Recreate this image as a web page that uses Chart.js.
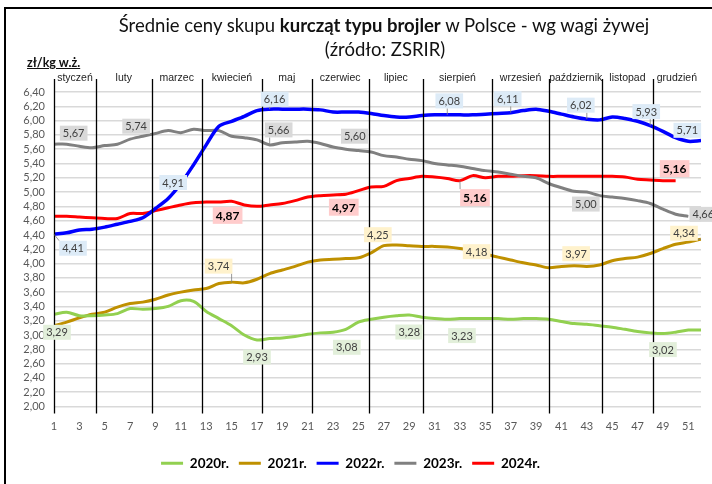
<!DOCTYPE html>
<html lang="pl">
<head>
<meta charset="UTF-8">
<title>Średnie ceny skupu kurcząt typu brojler</title>
<script src="https://cdn.jsdelivr.net/npm/chart.js"></script>
<style>
  body { margin: 0; background: #fff; }
  #wrap { position: relative; width: 712px; height: 484px; overflow: hidden; font-family: Lato, "Liberation Sans", sans-serif; }
  #frame { position: absolute; left: 4px; top: 7px; width: 740px; height: 520px; border-left: 2px solid #000; border-top: 2px solid #000; }
  #chartBox { position: absolute; left: 0; top: 0; width: 712px; height: 484px; }
  .t { position: absolute; white-space: nowrap; color: #111; }
  #title1 { left: 384px; top: 14px; transform: translateX(-50%); font-size: 18.5px; }
  #title2 { left: 385px; top: 38px; transform: translateX(-50%); font-size: 18.5px; }
  #unit { left: 27px; top: 55px; font-size: 12.5px; font-weight: bold; text-decoration: underline; }
</style>
</head>
<body>
<div id="wrap">
  <div id="frame"></div>
  <div id="chartBox"><canvas id="chart"></canvas></div>
  <div class="t" id="title1">Średnie ceny skupu <b>kurcząt typu brojler</b> w Polsce - wg wagi żywej</div>
  <div class="t" id="title2">(źródło: ZSRIR)</div>
  <div class="t" id="unit">zł/kg w.ż.</div>
</div>
<script>
// tygodnie roku
const weeks = [1,2,3,4,5,6,7,8,9,10,11,12,13,14,15,16,17,18,19,20,21,22,23,24,25,26,
               27,28,29,30,31,32,33,34,35,36,37,38,39,40,41,42,43,44,45,46,47,48,49,50,51,52];
const tickWeeks = [1,3,5,7,9,11,13,15,17,19,21,23,25,27,29,31,33,35,37,39,41,43,45,47,49,51];

const monthNames = ['styczeń','luty','marzec','kwiecień','maj','czerwiec','lipiec',
                    'sierpień','wrzesień','październik','listopad','grudzień'];
// granice miesięcy (w tygodniach)
const monthStarts = [1, 4.3, 8.7, 12.65, 17.4, 21.3, 25.8, 30.1, 35.5, 40.05, 44.2, 48.2];

const seriesNames = ['2020r.', '2021r.', '2022r.', '2023r.', '2024r.'];

const y2020 = [3.29,3.32,3.27,3.27,3.28,3.30,3.37,3.36,3.37,3.40,
               3.48,3.47,3.33,3.23,3.13,3.00,2.93,2.95,2.96,2.98,
               3.01,3.03,3.04,3.08,3.18,3.22,3.25,3.27,3.28,3.25,
               3.23,3.22,3.23,3.23,3.23,3.23,3.22,3.23,3.23,3.22,
               3.19,3.16,3.15,3.13,3.11,3.08,3.05,3.03,3.02,3.04,3.07,3.07];
const y2021 = [3.13,3.18,3.24,3.29,3.32,3.39,3.44,3.46,3.50,3.56,
               3.60,3.63,3.65,3.72,3.74,3.73,3.78,3.86,3.91,3.96,
               4.02,4.05,4.06,4.07,4.08,4.15,4.25,4.26,4.25,4.24,
               4.24,4.23,4.21,4.18,4.13,4.09,4.05,4.01,3.98,3.94,
               3.96,3.97,3.96,3.98,4.04,4.07,4.09,4.14,4.21,4.27,4.30,4.34];
const y2022 = [4.41,4.43,4.47,4.48,4.51,4.55,4.59,4.64,4.77,4.91,
               5.12,5.38,5.66,5.92,5.99,6.06,6.14,6.16,6.16,6.16,
               6.16,6.15,6.12,6.12,6.12,6.10,6.07,6.05,6.05,6.07,
               6.08,6.08,6.08,6.08,6.09,6.10,6.11,6.14,6.16,6.13,
               6.09,6.05,6.02,6.01,6.05,6.03,5.99,5.93,5.85,5.76,5.71,5.72];
const y2023 = [5.67,5.67,5.64,5.62,5.65,5.67,5.74,5.78,5.82,5.86,
               5.83,5.88,5.86,5.86,5.78,5.76,5.73,5.66,5.69,5.70,
               5.71,5.68,5.63,5.60,5.58,5.56,5.51,5.49,5.46,5.44,
               5.40,5.38,5.36,5.33,5.30,5.28,5.25,5.22,5.20,5.12,
               5.06,5.01,5.00,4.95,4.93,4.91,4.88,4.84,4.76,4.69,4.66];
const y2024 = [4.66,4.66,4.65,4.64,4.63,4.63,4.70,4.70,4.74,4.78,
               4.82,4.85,4.86,4.86,4.87,4.82,4.80,4.82,4.84,4.88,
               4.93,4.95,4.96,4.97,5.02,5.07,5.08,5.16,5.19,5.22,
               5.21,5.19,5.16,5.23,5.20,5.22,5.22,5.23,5.23,5.22,
               5.22,5.22,5.22,5.22,5.22,5.21,5.18,5.17,5.16,5.16];

const allSeries = [y2020, y2021, y2022, y2023, y2024];
const lineColors = ['#92d050', '#bf9000', '#0000ff', '#808080', '#ff0000'];
const boxColors = ['#e2efda', '#fff2cc', '#ddebf7', '#d9d9d9', '#ffcccc'];

// etykiety wartości: seria, tydzień, przesunięcie ramki
const valueLabels = [
  {s:0, w:1,  dx:3,   dy:18},
  {s:0, w:17, dx:0,   dy:17},
  {s:0, w:24, dx:1,   dy:18},
  {s:0, w:29, dx:0,   dy:17},
  {s:0, w:33, dx:2,   dy:17},
  {s:0, w:49, dx:0,   dy:16},
  {s:1, w:15, dx:-13, dy:-16, leader:true},
  {s:1, w:27, dx:-6,  dy:-11},
  {s:1, w:34, dx:4,   dy:1},
  {s:1, w:42, dx:2,   dy:-12},
  {s:1, w:52, dx:-17, dy:-6, leader:true},
  {s:2, w:1,  dx:19,  dy:14, leader:true},
  {s:2, w:10, dx:5,   dy:-16},
  {s:2, w:18, dx:5,   dy:-10, leader:true},
  {s:2, w:32, dx:2,   dy:-14, leader:true},
  {s:2, w:37, dx:-3,  dy:-14, leader:true},
  {s:2, w:43, dx:-6,  dy:-14, leader:true},
  {s:2, w:48, dx:-4,  dy:-14, leader:true},
  {s:2, w:51, dx:-1,  dy:-11},
  {s:3, w:2,  dx:7,   dy:-11},
  {s:3, w:7,  dx:6,   dy:-13},
  {s:3, w:18, dx:9,   dy:-15, leader:true},
  {s:3, w:24, dx:9,   dy:-13},
  {s:3, w:43, dx:-1,  dy:12},
  {s:3, w:51, dx:15,  dy:-2},
  {s:4, w:15, dx:-4,  dy:14},
  {s:4, w:24, dx:-2,  dy:13},
  {s:4, w:33, dx:15,  dy:17, leader:true},
  {s:4, w:50, dx:-1,  dy:-12}
];

const fmt = v => v.toFixed(2).replace('.', ',');

const decor = {
  id: 'decor',
  afterDatasetsDraw(chart) {
    const ctx = chart.ctx;
    const xs = chart.scales.x;
    const area = chart.chartArea;
    ctx.save();

    // pionowe linie miesięcy
    ctx.strokeStyle = '#000';
    ctx.lineWidth = 1.3;
    monthStarts.forEach(w => {
      const x = Math.round(xs.getPixelForValue(w)) + 0.5;
      ctx.beginPath();
      ctx.moveTo(x, area.top - 13);
      ctx.lineTo(x, area.bottom + 7);
      ctx.stroke();
    });

    // nazwy miesięcy
    ctx.fillStyle = '#222';
    ctx.font = '10.5px "Liberation Sans Narrow", "Liberation Sans", sans-serif';
    ctx.textAlign = 'center';
    ctx.textBaseline = 'middle';
    monthNames.forEach((m, i) => {
      const a = monthStarts[i];
      const b = i + 1 < monthStarts.length ? monthStarts[i + 1] : 52;
      ctx.fillText(m, xs.getPixelForValue((a + b) / 2), area.top - 14);
    });

    // etykiety wartości
    valueLabels.forEach(l => {
      const pt = chart.getDatasetMeta(l.s).data[l.w - 1];
      const val = allSeries[l.s][l.w - 1];
      const txt = fmt(val);
      const red = l.s === 4;
      ctx.font = red ? 'bold 12px Lato, sans-serif' : '11px Lato, sans-serif';
      const tw = ctx.measureText(txt).width;
      const bw = tw + 6, bh = red ? 17 : 15;
      const cx = pt.x + l.dx, cy = pt.y + l.dy;
      if (l.leader) {
        ctx.strokeStyle = '#7f7f7f';
        ctx.lineWidth = 0.8;
        const ex = Math.max(cx - bw / 2, Math.min(pt.x, cx + bw / 2));
        const ey = Math.max(cy - bh / 2, Math.min(pt.y, cy + bh / 2));
        ctx.beginPath();
        ctx.moveTo(pt.x, pt.y);
        ctx.lineTo(ex, ey);
        ctx.stroke();
      }
      ctx.fillStyle = boxColors[l.s];
      ctx.fillRect(cx - bw / 2, cy - bh / 2, bw, bh);
      ctx.fillStyle = red ? '#000' : '#404040';
      ctx.textAlign = 'center';
      ctx.textBaseline = 'middle';
      ctx.fillText(txt, cx, cy + 0.5);
    });
    ctx.restore();
  }
};

const datasets = allSeries.map((arr, i) => ({
  label: seriesNames[i],
  data: arr.map((v, j) => ({x: weeks[j], y: v})),
  borderColor: lineColors[i],
  backgroundColor: lineColors[i],
  borderWidth: i === 2 ? 3.5 : 3,
  pointRadius: 0,
  tension: 0.3,
  fill: false
}));

new Chart(document.getElementById('chart'), {
  type: 'line',
  data: { datasets },
  options: {
    responsive: true,
    maintainAspectRatio: false,
    animation: false,
    layout: { padding: { top: 92, right: 11, bottom: 4, left: 0 } },
    scales: {
      x: {
        type: 'linear',
        min: 1,
        max: 52,
        afterBuildTicks: s => { s.ticks = tickWeeks.map(v => ({value: v})); },
        afterFit: s => { s.height = 40; },
        grid: { display: false },
        border: { display: false },
        ticks: { autoSkip: false, maxRotation: 0, padding: 5, color: '#595959', font: { family: 'Lato', size: 11 } }
      },
      y: {
        min: 2,
        max: 6.4,
        afterFit: s => { s.width = 54; },
        grid: { color: '#d9d9d9', lineWidth: 1.5, drawTicks: false },
        border: { display: false },
        ticks: { stepSize: 0.2, autoSkip: false, padding: 9, color: '#595959', font: { family: 'Lato', size: 11 },
                 callback: v => fmt(v) }
      }
    },
    plugins: {
      tooltip: { enabled: false },
      legend: {
        position: 'bottom',
        labels: {
          boxWidth: 22,
          boxHeight: 3,
          padding: 10,
          color: '#000',
          font: { family: 'Lato', size: 13.5, weight: 'bold' },
          generateLabels: chart => Chart.defaults.plugins.legend.labels.generateLabels(chart)
            .map(it => Object.assign(it, { lineWidth: 0, fillStyle: it.strokeStyle }))
        }
      }
    }
  },
  plugins: [decor]
});
</script>
</body>
</html>
